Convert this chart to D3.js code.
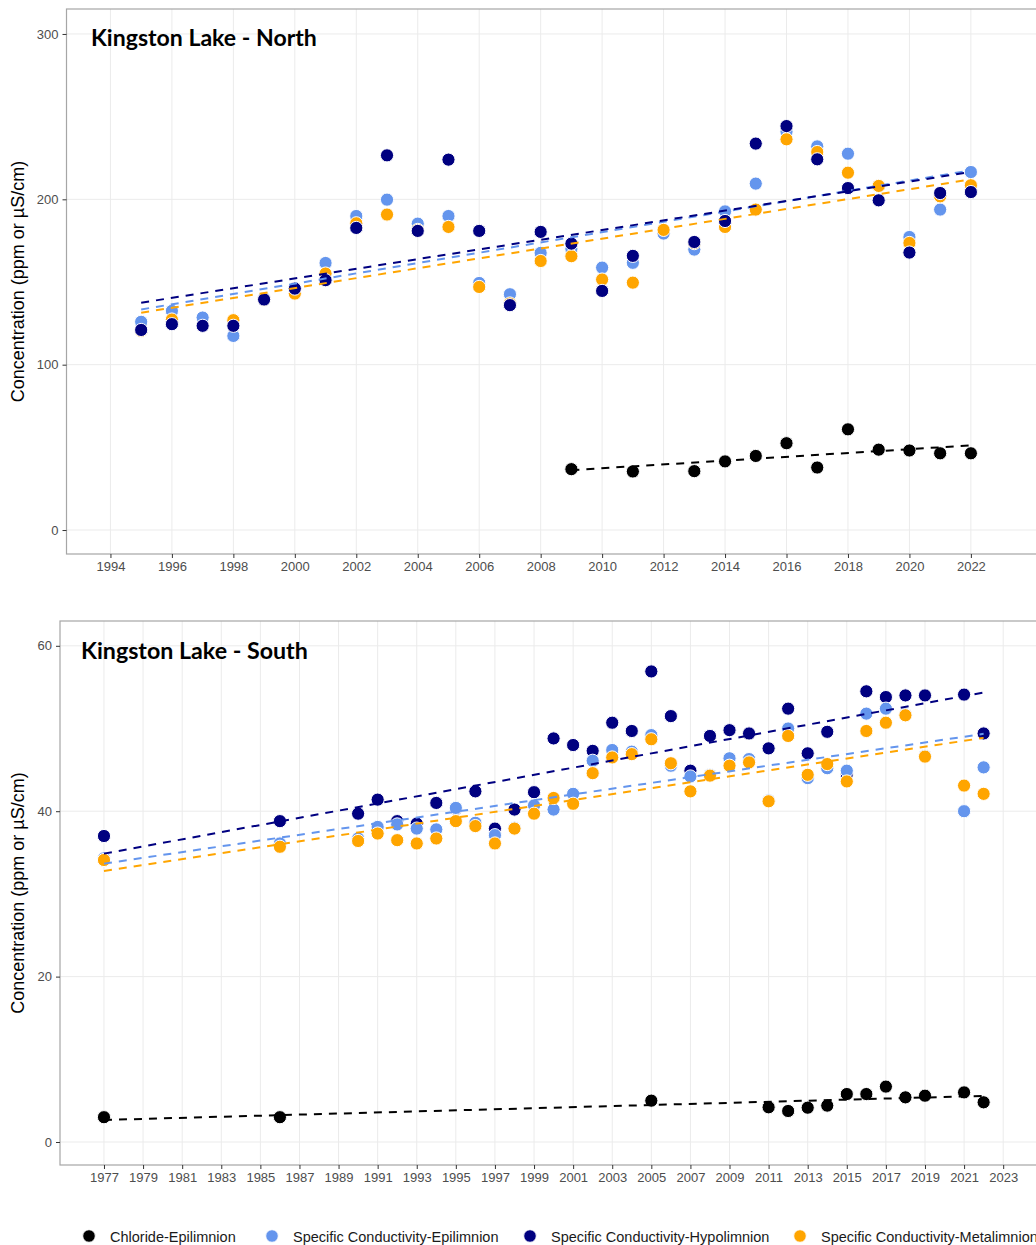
<!DOCTYPE html>
<html>
<head>
<meta charset="utf-8">
<script src="https://cdn.jsdelivr.net/npm/d3@7"></script>
<style>
  html, body { margin: 0; padding: 0; background: #fff; }
  svg { display: block; }
</style>
</head>
<body>
<div id="chart"></div>
<script>
// ---------------- DATA ----------------
const seriesNames = ["Chloride-Epilimnion", "Specific Conductivity-Epilimnion", "Specific Conductivity-Hypolimnion", "Specific Conductivity-Metalimnion"];
const seriesColors = ["#000000", "#6495ED", "#000080", "#FFA500"];

// North panel
const northTickYears = [1994,1996,1998,2000,2002,2004,2006,2008,2010,2012,2014,2016,2018,2020,2022];
const northTickValues = [0,100,200,300];
const northChlYears = [2009,2011,2013,2014,2015,2016,2017,2018,2019,2020,2021,2022];
const northChloride = [36.8,35.4,35.6,41.5,44.8,52.5,37.8,60.9,48.6,48.1,46.4,46.4];
const northSCYears = [1995,1996,1997,1998,1999,2000,2001,2002,2003,2004,2005,2006,2007,2008,2009,2010,2011,2012,2013,2014,2015,2016,2017,2018,2019,2020,2021,2022];
const northEpi  = [125.9,132.5,128.5,117.4,140.0,146.0,161.5,189.9,199.8,185.3,189.9,149.4,142.6,167.6,170.0,158.7,161.6,179.3,169.6,192.7,209.5,240.8,232.0,227.6,208.0,177.2,193.8,216.5];
const northMeta = [120.4,127.3,null,126.9,139.2,143.0,155.1,185.5,190.8,181.5,183.3,147.0,137.0,162.7,165.6,151.5,149.6,181.5,173.5,183.3,193.8,236.3,228.6,216.1,208.1,173.6,201.8,208.5];
const northHypo = [121.0,124.5,123.5,123.5,139.4,146.0,151.1,182.7,226.6,180.9,224.0,180.9,136.0,180.3,173.2,144.6,165.8,null,174.2,186.9,233.7,244.3,224.2,206.8,199.4,167.8,203.8,204.4];

// South panel
const southTickYears = d3.range(1977, 2024, 2);
const southTickValues = [0,20,40,60];
const southChlYears = [1977,1986,2005,2011,2012,2013,2014,2015,2016,2017,2018,2019,2021,2022];
const southChloride = [3.0,3.0,5.0,4.2,3.75,4.15,4.4,5.8,5.8,6.7,5.4,5.6,6.0,4.8];
const southSCYears = [1977,1986,1990,1991,1992,1993,1994,1995,1996,1997,1998,1999,2000,2001,2002,2003,2004,2005,2006,2007,2008,2009,2010,2011,2012,2013,2014,2015,2016,2017,2018,2019,2021,2022];
const southEpi  = [34.3,36.1,36.7,38.1,38.4,37.9,37.8,40.4,38.6,37.1,38.0,40.7,40.2,42.1,46.1,47.4,47.2,49.2,45.5,44.2,44.4,46.4,46.3,41.3,50.0,44.0,45.2,44.9,51.8,52.4,51.7,46.7,40.0,45.3];
const southHypo = [37.0,38.8,39.7,41.4,38.8,38.5,41.0,40.3,42.4,37.9,40.2,42.3,48.8,48.0,47.3,50.7,49.7,56.9,51.5,44.9,49.1,49.8,49.4,47.6,52.4,47.0,49.6,44.5,54.5,53.8,54.0,54.0,54.1,49.4];
const southMeta = [34.1,35.7,36.4,37.3,36.5,36.1,36.7,38.8,38.2,36.1,37.9,39.7,41.6,40.9,44.6,46.5,46.9,48.7,45.8,42.4,44.3,45.5,45.9,41.2,49.1,44.4,45.7,43.6,49.7,50.7,51.6,46.6,43.1,42.1];

// ---------------- DRAW ----------------
const W = 1036, H = 1245;
const svg = d3.select("#chart").append("svg").attr("width", W).attr("height", H);

function pairs(years, vals) {
  return years.map((y, i) => ({ x: y, y: vals[i] })).filter(d => d.y != null);
}
function linfit(pts) {
  const mx = d3.mean(pts, d => d.x), my = d3.mean(pts, d => d.y);
  let sxy = 0, sxx = 0;
  pts.forEach(d => { sxy += (d.x - mx) * (d.y - my); sxx += (d.x - mx) * (d.x - mx); });
  const b = sxy / sxx, a = my - b * mx;
  const x0 = d3.min(pts, d => d.x), x1 = d3.max(pts, d => d.x);
  return [{ x: x0, y: a + b * x0 }, { x: x1, y: a + b * x1 }];
}

function drawPanel(cfg) {
  const g = svg.append("g");
  const x = d3.scaleLinear().domain(cfg.xDomain).range([cfg.left, cfg.right]);
  const y = d3.scaleLinear().domain(cfg.yDomain).range([cfg.bottom, cfg.top]);

  g.selectAll(".vg").data(cfg.xTicks).enter().append("line")
    .attr("x1", d => x(d)).attr("x2", d => x(d))
    .attr("y1", cfg.top).attr("y2", cfg.bottom)
    .attr("stroke", "#ebebeb").attr("stroke-width", 1);
  g.selectAll(".hg").data(cfg.yTicks).enter().append("line")
    .attr("x1", cfg.left).attr("x2", cfg.right)
    .attr("y1", d => y(d)).attr("y2", d => y(d))
    .attr("stroke", "#ebebeb").attr("stroke-width", 1);

  g.append("rect").attr("x", cfg.left).attr("y", cfg.top)
    .attr("width", cfg.right - cfg.left).attr("height", cfg.bottom - cfg.top)
    .attr("fill", "none").attr("stroke", "#a6a6a6").attr("stroke-width", 1.2);

  const xa = g.append("g").attr("transform", `translate(0,${cfg.bottom})`)
    .call(d3.axisBottom(x).tickValues(cfg.xTicks).tickFormat(d3.format("d")).tickSize(4).tickPadding(4));
  xa.select(".domain").remove();
  xa.selectAll("line").attr("stroke", "#333");
  xa.selectAll("text").attr("font-family", "Liberation Sans, Arial, sans-serif").attr("font-size", 13).attr("fill", "#4d4d4d");

  const ya = g.append("g").attr("transform", `translate(${cfg.left},0)`)
    .call(d3.axisLeft(y).tickValues(cfg.yTicks).tickFormat(d3.format("d")).tickSize(4).tickPadding(4));
  ya.select(".domain").remove();
  ya.selectAll("line").attr("stroke", "#333");
  ya.selectAll("text").attr("font-family", "Liberation Sans, Arial, sans-serif").attr("font-size", 13).attr("fill", "#4d4d4d");

  g.append("text")
    .attr("transform", `translate(${cfg.ylabX},${(cfg.top + cfg.bottom) / 2}) rotate(-90)`)
    .attr("text-anchor", "middle").attr("dominant-baseline", "central")
    .attr("font-family", "Liberation Sans, Arial, sans-serif").attr("font-size", 18)
    .attr("fill", "#000").text("Concentration (ppm or µS/cm)");

  cfg.series.forEach(s => {
    const pts = pairs(s.years, s.values);
    g.append("g").selectAll("circle").data(pts).enter().append("circle")
      .attr("cx", d => x(d.x)).attr("cy", d => y(d.y)).attr("r", 6.6)
      .attr("fill", s.color).attr("stroke", "#fff").attr("stroke-width", 1);
  });
  const line = d3.line().x(d => x(d.x)).y(d => y(d.y));
  cfg.series.forEach(s => {
    const pts = pairs(s.years, s.values);
    g.append("path").attr("d", line(linfit(pts)))
      .attr("fill", "none").attr("stroke", s.color).attr("stroke-width", 2)
      .attr("stroke-dasharray", "8,7");
  });

  const t = g.append("text").attr("x", cfg.titleX).attr("y", cfg.titleY)
    .attr("font-family", "Lato, 'Noto Sans', sans-serif").attr("font-weight", 700)
    .attr("font-size", 22).attr("fill", "#000").text(cfg.title);
  const w = t.node().getComputedTextLength();
  t.attr("font-size", 22 * cfg.titleW / w);
}

drawPanel({
  left: 66.5, right: 1060, top: 9, bottom: 554,
  xDomain: [1992.57, 2024.9], yDomain: [-14.5, 315.1],
  xTicks: northTickYears, yTicks: northTickValues,
  ylabX: 18, title: "Kingston Lake - North", titleX: 91, titleY: 46, titleW: 226,
  series: [
    { years: northChlYears, values: northChloride, color: seriesColors[0] },
    { years: northSCYears, values: northEpi, color: seriesColors[1] },
    { years: northSCYears, values: northHypo, color: seriesColors[2] },
    { years: northSCYears, values: northMeta, color: seriesColors[3] }
  ].filter(s => s).sort((a, b) => [0, 1, 3, 2].indexOf(seriesColors.indexOf(a.color)) - [0, 1, 3, 2].indexOf(seriesColors.indexOf(b.color)))
});

drawPanel({
  left: 60, right: 1054, top: 621, bottom: 1165,
  xDomain: [1974.75, 2025.6], yDomain: [-2.78, 63.0],
  xTicks: southTickYears, yTicks: southTickValues,
  ylabX: 18, title: "Kingston Lake - South", titleX: 81, titleY: 659, titleW: 227,
  series: [
    { years: southChlYears, values: southChloride, color: seriesColors[0] },
    { years: southSCYears, values: southHypo, color: seriesColors[2] },
    { years: southSCYears, values: southEpi, color: seriesColors[1] },
    { years: southSCYears, values: southMeta, color: seriesColors[3] }
  ]
});

const legendX = [89, 272, 530, 800];
const lg = svg.append("g");
seriesNames.forEach((name, i) => {
  lg.append("circle").attr("cx", legendX[i]).attr("cy", 1236).attr("r", 6.3)
    .attr("fill", seriesColors[i]).attr("stroke", "#fff").attr("stroke-width", 1);
  lg.append("text").attr("x", legendX[i] + 21).attr("y", 1237)
    .attr("dominant-baseline", "central")
    .attr("font-family", "Liberation Sans, Arial, sans-serif").attr("font-size", 14.5)
    .attr("fill", "#1a1a1a").text(name);
});
</script>
</body>
</html>
